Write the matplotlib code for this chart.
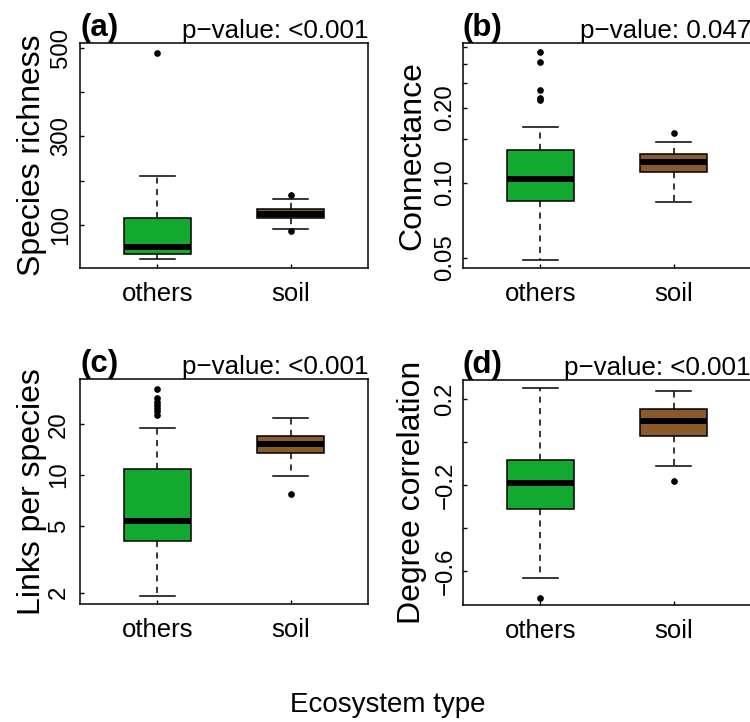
import numpy as np
import matplotlib
matplotlib.use('Agg')
import matplotlib.pyplot as plt

plt.rcParams['font.family'] = ['Liberation Sans', 'DejaVu Sans']

# ==============================
# DATA
# ==============================
groups = ['others', 'soil']
panel_tags = ['(a)', '(b)', '(c)', '(d)']
p_values = ['<0.001', '0.047', '<0.001', '<0.001']
metrics = ['Species richness', 'Connectance', 'Links per species', 'Degree correlation']

# five-number summaries: [whisker low, q1, median, q3, whisker high]
richness_others = [22.6, 34.5, 49.7, 115, 211]
richness_others_out = [489]
richness_soil = [91, 116.5, 125, 136, 159]
richness_soil_out = [87, 168]

connect_others = [0.0493, 0.0845, 0.104, 0.135, 0.167]
connect_others_out = [0.214, 0.219, 0.236, 0.306, 0.333]
connect_soil = [0.084, 0.111, 0.121, 0.130, 0.146]
connect_soil_out = [0.159]

links_others = [1.92, 4.02, 5.35, 10.8, 18.9]
links_others_out = [22.7, 23.8, 24.9, 26.0, 27.2, 28.5, 32.3]
links_soil = [9.8, 13.5, 15.3, 17.1, 21.9]
links_soil_out = [7.7]

degree_others = [-0.631, -0.311, -0.192, -0.082, 0.251]
degree_others_out = [-0.725]
degree_soil = [-0.110, 0.030, 0.098, 0.155, 0.239]
degree_soil_out = [-0.182]

# y axis ticks / labels per panel
richness_ticks = [100, 200, 300, 400, 500]
richness_labels = ['100', '', '300', '', '500']
connect_ticks = [0.05, 0.10, 0.15, 0.20, 0.25, 0.30, 0.35]
connect_labels = ['0.05', '0.10', '', '0.20', '', '', '']
links_ticks = [2, 5, 10, 20]
links_labels = ['2', '5', '10', '20']
degree_ticks = [-0.6, -0.4, -0.2, 0.0, 0.2]
degree_labels = ['\u22120.6', '', '\u22120.2', '', '0.2']

green = '#13a82f'
brown = '#8b5a2b'

def make_stats(summary, fliers):
    lo, q1, med, q3, hi = summary
    return dict(whislo=lo, q1=q1, med=med, q3=q3, whishi=hi, fliers=fliers)

panels = [
    dict(stats=[make_stats(richness_others, richness_others_out), make_stats(richness_soil, richness_soil_out)],
         log=False, ylim=(3, 510.6), ticks=richness_ticks, labels=richness_labels,
         pos=(80, 43), ypad=6.0, ylab_x=47),
    dict(stats=[make_stats(connect_others, connect_others_out), make_stats(connect_soil, connect_soil_out)],
         log=True, ylim=(0.0456, 0.363), ticks=connect_ticks, labels=connect_labels,
         pos=(463, 43), ypad=4.8, ylab_x=427),
    dict(stats=[make_stats(links_others, links_others_out), make_stats(links_soil, links_soil_out)],
         log=True, ylim=(1.71, 37.1), ticks=links_ticks, labels=links_labels,
         pos=(80, 379), ypad=7.2, ylab_x=47),
    dict(stats=[make_stats(degree_others, degree_others_out), make_stats(degree_soil, degree_soil_out)],
         log=False, ylim=(-0.759, 0.289), ticks=degree_ticks, labels=degree_labels,
         pos=(463, 380), ypad=4.8, ylab_x=427),
]

W, H = 750, 722
fig = plt.figure(figsize=(W / 100, H / 100), dpi=100)
ax_w, ax_h = 288, 225

for i, p in enumerate(panels):
    left, top = p['pos']
    ax = fig.add_axes([left / W, 1 - (top + ax_h) / H, ax_w / W, ax_h / H])
    if p['log']:
        ax.set_yscale('log')
    bp = ax.bxp(p['stats'], positions=[1, 2], widths=0.5, patch_artist=True,
                boxprops=dict(linewidth=1.1, edgecolor='black'),
                medianprops=dict(linewidth=4.3, color='black', solid_capstyle='butt'),
                whiskerprops=dict(linewidth=1.1, color='black', linestyle=(0, (4, 3.5))),
                capprops=dict(linewidth=1.1, color='black'),
                flierprops=dict(marker='o', markersize=3.8, markerfacecolor='black',
                                markeredgecolor='black', linestyle='none'),
                capwidths=0.26)
    for patch, col in zip(bp['boxes'], [green, brown]):
        patch.set_facecolor(col)
    ax.set_xlim(0.42, 2.58)
    ax.set_ylim(*p['ylim'])
    ax.yaxis.set_minor_locator(matplotlib.ticker.NullLocator())
    ax.set_yticks(p['ticks'], p['labels'], rotation=90, va='center', fontsize=17.3)
    ax.set_xticks([1, 2], groups, fontsize=18.5)
    ax.tick_params(axis='y', direction='in', length=3, width=1.0, pad=p['ypad'])
    ax.tick_params(axis='x', direction='in', length=3, width=1.0, pad=10)
    for sp in ax.spines.values():
        sp.set_linewidth(1.1)
    ax.set_ylabel(metrics[i], fontsize=23)
    ax.yaxis.set_label_coords((p['ylab_x'] - left) / ax_w, 0.5)
    ax.text(0, 1.0, panel_tags[i], transform=ax.transAxes, ha='left', va='bottom',
            fontsize=22.5, fontweight='bold')
    ax.text(1, 1.0, 'p\u2212value: ' + p_values[i], transform=ax.transAxes,
            ha='right', va='bottom', fontsize=18.7)

fig.text(388 / W, 1 - 705 / H, 'Ecosystem type', ha='center', va='center', fontsize=20)

fig.savefig('out.png', dpi=100)
